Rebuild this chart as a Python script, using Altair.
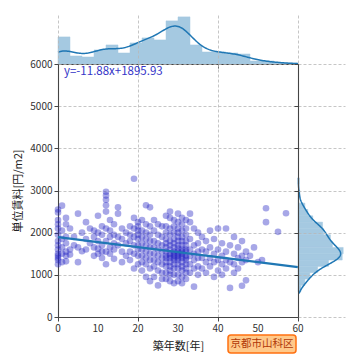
import altair as alt
import numpy as np
import pandas as pd

# ---- data (age in years -> unit rents) ----
rent_by_age = {
    0: [2550, 2480, 2300, 2200, 2100, 1950, 1800, 1700, 1600, 1500, 1450, 1400, 1350, 1250],
    1: [2640, 2050, 1850, 1650, 1500, 1300],
    2: [2350, 2200, 1900, 1750, 1550, 1450, 1320],
    3: [2100, 1600, 1480],
    4: [1900, 1700],
    5: [2450, 1650, 1300],
    6: [2000, 1560],
    7: [2250, 1850, 1600],
    8: [2100, 1750],
    9: [2050, 1900, 1650, 1450],
    10: [2400, 2000, 1800, 1620, 1500],
    11: [2150, 1950, 1700, 1550, 1400],
    12: [2970, 2880, 2780, 2650, 2500, 2100, 1800, 1550, 1250],
    13: [2300, 2050, 1900, 1650, 1500],
    14: [2200, 1950, 1750, 1600, 1380],
    15: [2600, 2450, 1900, 1700],
    16: [2100, 1850, 1550, 1300],
    17: [2000, 1750, 1450],
    18: [2150, 1950, 1800, 1550, 1350],
    19: [3280, 2350, 2100, 1900, 1700, 1500, 1150],
    20: [2250, 2150, 2050, 1950, 1850, 1700, 1600, 1450, 1250],
    21: [2300, 2050, 1900, 1750, 1600, 1450, 1300, 1100],
    22: [2650, 2200, 2000, 1850, 1700, 1550, 1400, 1250, 950],
    23: [2600, 2150, 1950, 1800, 1650, 1500, 1350, 1150, 850],
    24: [2300, 2050, 1800, 1650, 1500, 1350, 1200, 950],
    25: [2200, 1950, 1750, 1600, 1450, 1300, 1100, 750],
    26: [2150, 1900, 1700, 1550, 1400, 1250, 1050, 900],
    27: [2400, 2150, 2000, 1850, 1750, 1650, 1550, 1450, 1400, 1300, 1200, 1050, 900],
    28: [2500, 2350, 2100, 1950, 1800, 1700, 1600, 1500, 1450, 1400, 1300, 1200, 1100, 1000, 850],
    29: [2300, 2150, 2000, 1850, 1750, 1650, 1550, 1500, 1450, 1400, 1350, 1250, 1150, 1000, 800],
    30: [2450, 2250, 2100, 2000, 1900, 1800, 1700, 1620, 1550, 1500, 1450, 1400, 1350, 1250, 1150, 1000, 850],
    31: [2350, 2200, 2050, 1900, 1800, 1700, 1600, 1550, 1500, 1450, 1400, 1300, 1200, 1100, 950, 800],
    32: [2300, 2100, 1950, 1800, 1700, 1600, 1550, 1450, 1400, 1350, 1250, 1150, 1050, 900],
    33: [2450, 2250, 1850, 1600, 1450, 1250, 1050],
    34: [2100, 1700, 1500, 1350, 1150, 720],
    35: [2000, 1750, 1550, 1400, 1200, 1000],
    36: [1900, 1600, 1400, 1150],
    37: [1800, 1550, 1300, 1050],
    38: [2050, 1650, 1400, 1200],
    39: [1850, 1500, 1300, 950],
    40: [2100, 1600, 1350, 1100],
    41: [1750, 1450, 1250, 1000],
    42: [2100, 1550, 1350, 1150],
    43: [1700, 1300, 690],
    44: [1900, 1500, 1250, 1050],
    45: [1650, 1400, 1150],
    46: [1800, 1450, 1300, 740],
    47: [1550, 1350, 870],
    48: [1450],
    49: [1650],
    50: [1300],
    51: [1350],
    52: [2580, 2250],
    55: [2020],
    57: [2460],
}
slope = -11.88
intercept = 1895.93
line_ends = [0, 60]
x_ticks = [0, 10, 20, 30, 40, 50, 60]
y_ticks = [0, 1000, 2000, 3000, 4000, 5000, 6000]
rent_kde_extent = [560, 3300]
x_title = "築年数[年]"
y_title = "単位賃料[円/m2]"
area_label = "京都市山科区"

ages, rents = [], []
for a, rs in rent_by_age.items():
    for r in rs:
        ages.append(a)
        rents.append(r)
df = pd.DataFrame({"age": ages, "rent": rents})

RENT_STEP = 150
age_counts, _ = np.histogram(ages, bins=np.arange(0, 61, 3))
rent_counts, _ = np.histogram(rents, bins=np.arange(0, 6001, RENT_STEP))
top_max = float(age_counts.max()) * 1.04
right_max = float(rent_counts.max()) * 1.04

FONT = "Noto Sans CJK JP"
W, H = 240, 253
TOP_H, RIGHT_W = 49, 47
C0 = "#1f77b4"
HIST = "#a5c9e1"
GRID = dict(grid=True, gridColor="#b8b8b8", gridDash=[3, 2], gridWidth=0.8)
STYLE = dict(domainColor="#444", domainWidth=1.1, tickColor="#444", tickSize=4,
             labelFont=FONT, labelFontSize=10, labelColor="#333", format="d",
             titleFont=FONT, titleFontSize=11, titleColor="#222", titleFontWeight="normal")

xscale = alt.Scale(domain=[0, 60], nice=False, zero=False)
yscale = alt.Scale(domain=[0, 6000], nice=False)

# ---- main scatter ----
points = alt.Chart(df).mark_circle(size=44, opacity=0.4, color="#2424c2").encode(
    x=alt.X("age:Q", scale=xscale, title=x_title,
            axis=alt.Axis(values=x_ticks, labels=False, titlePadding=19, **GRID, **STYLE)),
    y=alt.Y("rent:Q", scale=yscale, title=y_title,
            axis=alt.Axis(values=y_ticks, titlePadding=6, **GRID, **STYLE)),
)
xlabels = alt.Chart(pd.DataFrame({"v": x_ticks})).mark_text(
    align="center", baseline="middle", font=FONT, fontSize=10, color="#333"
).encode(x=alt.X("v:Q", scale=xscale), y=alt.value(H + 12), text=alt.Text("v:Q", format="d"))
reg = alt.Chart(pd.DataFrame({"age": line_ends})).transform_calculate(
    rent=f"{slope}*datum.age+{intercept}"
).mark_line(color=C0, strokeWidth=2.2).encode(
    x=alt.X("age:Q", scale=xscale), y=alt.Y("rent:Q", scale=yscale)
)
eq = alt.Chart(pd.DataFrame({"t": [f"y={slope}x+{intercept}"]})).mark_text(
    align="left", baseline="middle", font=FONT, fontSize=11.5, color="#3535c8"
).encode(x=alt.value(6), y=alt.value(8), text="t:N")
box = alt.Chart(pd.DataFrame({"t": [area_label]})).mark_rect(
    fill="#ffc98a", stroke="#ff7010", strokeWidth=1.5, cornerRadius=3
).encode(x=alt.value(170), x2=alt.value(238), y=alt.value(271), y2=alt.value(289))
box_t = alt.Chart(pd.DataFrame({"t": [area_label]})).mark_text(
    align="center", baseline="middle", font=FONT, fontSize=10.5, color="#b03808"
).encode(x=alt.value(204), y=alt.value(280), text="t:N")
main = alt.layer(points, reg, xlabels, eq, box, box_t).properties(width=W, height=H)

# ---- top marginal ----
top_hist = alt.Chart(df).transform_bin(
    ["a0", "a1"], "age", bin=alt.Bin(extent=[0, 60], step=3)
).transform_aggregate(n="count()", groupby=["a0", "a1"]).mark_rect(
    color=HIST, stroke=HIST, strokeWidth=0.5
).encode(
    x=alt.X("a0:Q", scale=xscale, title=None,
            axis=alt.Axis(values=x_ticks, labels=False, zindex=1, **GRID, **STYLE)),
    x2="a1:Q",
    y=alt.Y("n:Q", scale=alt.Scale(domain=[0, top_max], nice=False), axis=None),
    y2=alt.datum(0),
)
top_kde = alt.Chart(df).transform_density(
    "age", as_=["age", "d"], bandwidth=3, extent=[0, 60], counts=True, steps=200
).transform_calculate(n="datum.d*3").mark_line(color=C0, strokeWidth=1.5).encode(
    x=alt.X("age:Q", scale=xscale),
    y=alt.Y("n:Q", scale=alt.Scale(domain=[0, top_max], nice=False)),
)
top = alt.layer(top_hist, top_kde).properties(width=W, height=TOP_H)

# ---- right marginal ----
r_hist = alt.Chart(df).transform_bin(
    ["r0", "r1"], "rent", bin=alt.Bin(step=RENT_STEP)
).transform_aggregate(n="count()", groupby=["r0", "r1"]).mark_rect(
    color=HIST, stroke=HIST, strokeWidth=0.5
).encode(
    y=alt.Y("r0:Q", scale=yscale, title=None,
            axis=alt.Axis(values=y_ticks, labels=False, zindex=1, **GRID, **STYLE)),
    y2="r1:Q",
    x=alt.X("n:Q", scale=alt.Scale(domain=[0, right_max], nice=False), axis=None),
    x2=alt.datum(0),
)
r_kde = alt.Chart(df).transform_density(
    "rent", as_=["rent", "d"], bandwidth=130, extent=rent_kde_extent,
    counts=True, steps=200
).transform_calculate(n=f"datum.d*{RENT_STEP}").mark_line(color=C0, strokeWidth=1.5).encode(
    y=alt.Y("rent:Q", scale=yscale),
    x=alt.X("n:Q", scale=alt.Scale(domain=[0, right_max], nice=False)),
    order="rent:Q",
)
right = alt.layer(r_hist, r_kde).properties(width=RIGHT_W, height=H)

chart = alt.vconcat(
    top,
    alt.hconcat(main, right, spacing=0, bounds="flush"),
    spacing=0, bounds="flush",
).properties(
    padding={"left": 4, "top": 7, "right": 5, "bottom": 5}
).configure_view(stroke=None)

chart.save("out.html", embed_options={"renderer": "svg", "actions": False})
